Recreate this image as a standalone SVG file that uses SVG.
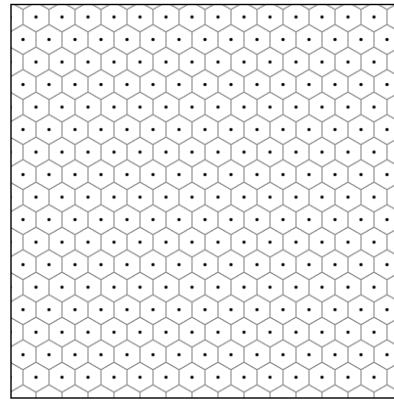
<svg xmlns="http://www.w3.org/2000/svg" xmlns:xlink="http://www.w3.org/1999/xlink" width="394" height="400" viewBox="0 0 394 400">
<style>
.edge{fill:none;stroke:#7a7a7a;stroke-width:0.9}
.site{fill:#000}
.frame{fill:none;stroke:#000;stroke-width:1.4}
</style>
<defs>
<path id="hex" class="edge" d="M0,-15.01 L13,-7.51 L13,7.51 L0,15.01 L-13,7.51 L-13,-7.51 Z"/>
<pattern id="vor" patternUnits="userSpaceOnUse" x="29.5" y="5.74" width="26" height="45.03">
<use xlink:href="#hex" href="#hex" x="6.5" y="11.26"/>
<use xlink:href="#hex" href="#hex" x="32.5" y="11.26"/>
<use xlink:href="#hex" href="#hex" x="6.5" y="56.29"/>
<use xlink:href="#hex" href="#hex" x="32.5" y="56.29"/>
<use xlink:href="#hex" href="#hex" x="19.5" y="33.77"/>
<use xlink:href="#hex" href="#hex" x="-6.5" y="33.77"/>
<use xlink:href="#hex" href="#hex" x="19.5" y="-11.26"/>
<use xlink:href="#hex" href="#hex" x="-6.5" y="-11.26"/>
<circle class="site" cx="6.5" cy="11.26" r="1.6"/>
<circle class="site" cx="19.5" cy="33.77" r="1.6"/>
</pattern>
</defs>
<rect x="0" y="0" width="394" height="400" fill="#fff"/>
<g id="tessellation">
<rect x="11" y="4.5" width="395" height="393.5" fill="url(#vor)"/>
</g>
<rect id="frame" class="frame" x="11" y="4.5" width="395" height="393.5"/>
</svg>
